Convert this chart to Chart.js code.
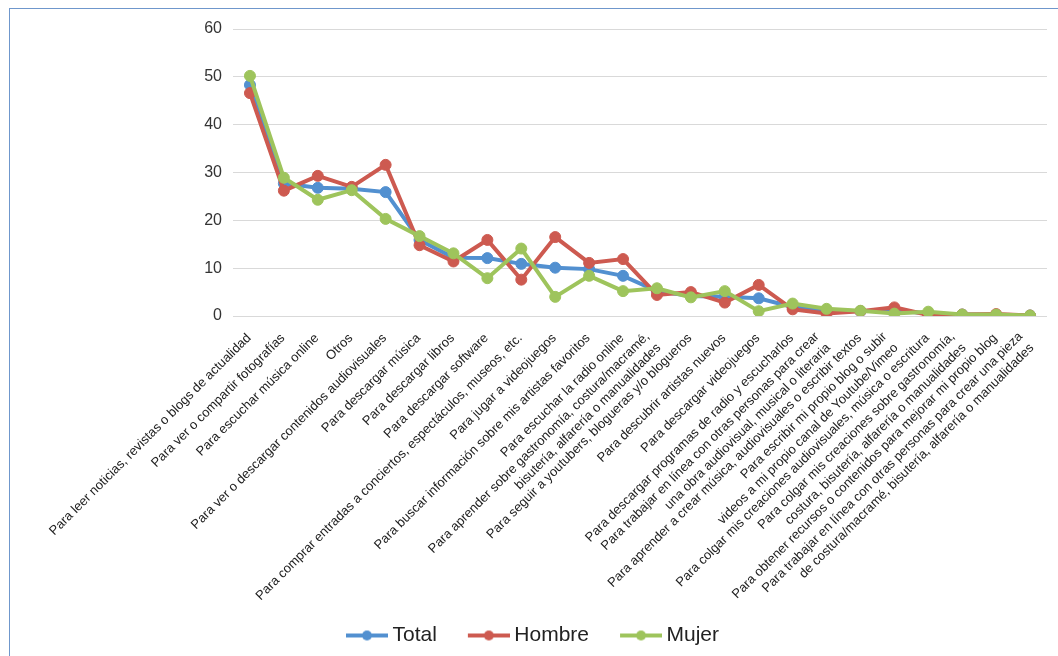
<!DOCTYPE html>
<html lang="es">
<head>
<meta charset="utf-8">
<title>Usos de Internet</title>
<script src="https://cdn.jsdelivr.net/npm/chart.js@4/dist/chart.umd.min.js"></script>
<style>
  html, body { margin: 0; padding: 0; background: #fff; }
  #wrap { position: relative; width: 1058px; height: 656px; }
  #frame {
    position: absolute; left: 9px; top: 8px; right: 0; bottom: 0;
    border-top: 1px solid #6f97cc; border-left: 1px solid #6f97cc;
    pointer-events: none;
  }
</style>
</head>
<body>
<div id="wrap">
  <canvas id="chart" width="1058" height="656"></canvas>
  <div id="frame"></div>
</div>
<script>
// Usos de Internet, en porcentaje
const categorias = [
  "Para leer noticias, revistas o blogs de actualidad",
  "Para ver o compartir fotografías",
  "Para escuchar música online",
  "Otros",
  "Para ver o descargar contenidos audiovisuales",
  "Para descargar música",
  "Para descargar libros",
  "Para descargar software",
  "Para comprar entradas a conciertos, espectáculos, museos, etc.",
  "Para jugar a videojuegos",
  "Para buscar información sobre mis artistas favoritos",
  "Para escuchar la radio online",
  ["Para aprender sobre gastronomía, costura/macramé,", "bisutería, alfarería o manualidades"],
  "Para seguir a youtubers, blogueras y/o blogueros",
  "Para descubrir artistas nuevos",
  "Para descargar videojuegos",
  "Para descargar programas de radio y escucharlos",
  ["Para trabajar en línea con otras personas para crear", "una obra audiovisual, musical o literaria"],
  "Para aprender a crear música, audiovisuales o escribir textos",
  ["Para escribir mi propio blog o subir", "videos a mi propio canal de Youtube/Vimeo"],
  "Para colgar mis creaciones audiovisuales, música o escritura",
  ["Para colgar mis creaciones sobre gastronomía,", "costura, bisutería, alfarería o manualidades"],
  "Para obtener recursos o contenidos para mejorar mi propio blog",
  ["Para trabajar en línea con otras personas para crear una pieza", "de costura/macramé, bisutería, alfarería o manualidades"]
];

const total  = [48.3, 27.7, 26.8, 26.6, 25.9, 15.9, 12.2, 12.1, 10.9, 10.1, 9.8, 8.4, 5.2, 4.2, 4.0, 3.7, 1.9, 1.1, 1.0, 1.2, 0.5, 0.3, 0.2, 0.1];
const hombre = [46.6, 26.2, 29.3, 27.0, 31.6, 14.8, 11.4, 15.9, 7.6, 16.5, 11.1, 11.9, 4.4, 5.0, 2.8, 6.5, 1.4, 0.5, 1.0, 1.8, 0.2, 0.3, 0.4, 0.1];
const mujer  = [50.2, 28.9, 24.3, 26.3, 20.3, 16.7, 13.1, 7.9, 14.1, 4.0, 8.4, 5.2, 5.8, 3.9, 5.2, 1.0, 2.6, 1.5, 1.1, 0.5, 0.9, 0.3, 0.3, 0.1];

const seriesNames = ["Total", "Hombre", "Mujer"];
const yTicks = [0, 10, 20, 30, 40, 50, 60];

const colors = ["#5290d0", "#cd5a50", "#9ec45c"];
const FONT = "'Liberation Sans', Arial, sans-serif";

// Legend swatch: a short line with a dot in the middle
function swatch(color) {
  const c = document.createElement("canvas");
  c.width = 54; c.height = 14;
  const g = c.getContext("2d");
  g.strokeStyle = color; g.lineWidth = 4;
  g.beginPath(); g.moveTo(12, 7); g.lineTo(54, 7); g.stroke();
  g.fillStyle = color;
  g.beginPath(); g.arc(33, 7, 5, 0, Math.PI * 2); g.fill();
  return c;
}
const swatches = colors.map(swatch);

// Category labels at 45°, multi-line labels centred on their tick
const slantedLabels = {
  id: "slantedLabels",
  afterDraw(chart) {
    const s = chart.scales.x;
    const ctx = chart.ctx;
    const lh = 16;
    ctx.save();
    ctx.font = "13px " + FONT;
    ctx.fillStyle = "#222";
    ctx.textAlign = "right";
    ctx.textBaseline = "middle";
    s.getLabels().forEach((lab, i) => {
      const lines = Array.isArray(lab) ? lab : [lab];
      const n = lines.length;
      ctx.save();
      ctx.translate(s.getPixelForTick(i) - 1, s.top + 20);
      ctx.rotate(-Math.PI / 4);
      const along = n > 1 ? -5 : 0;
      const shift = n > 1 ? 1 : 0;
      lines.forEach((t, j) => ctx.fillText(t, along, (j - (n - 1) / 2) * lh + shift));
      ctx.restore();
    });
    ctx.restore();
  }
};

// Nudge the legend row slightly to the right of centre
const legendNudge = {
  id: "legendNudge",
  afterLayout(chart) {
    if (chart.legend) {
      chart.legend.left += 6;
      chart.legend.right += 6;
    }
  }
};

function serie(label, data, color, order) {
  return {
    label, data, order,
    borderColor: color,
    backgroundColor: color,
    borderWidth: 4,
    pointRadius: 5.5,
    pointBackgroundColor: color,
    pointBorderColor: color,
    pointBorderWidth: 1,
    tension: 0,
    fill: false
  };
}

new Chart(document.getElementById("chart"), {
  type: "line",
  data: {
    labels: categorias,
    datasets: [
      serie(seriesNames[0], total, colors[0], 3),
      serie(seriesNames[1], hombre, colors[1], 2),
      serie(seriesNames[2], mujer, colors[2], 1)
    ]
  },
  plugins: [slantedLabels, legendNudge],
  options: {
    responsive: false,
    animation: false,
    layout: { padding: { top: 29, right: 11, bottom: 0, left: 0 } },
    plugins: {
      tooltip: { enabled: false },
      legend: {
        position: "bottom",
        labels: {
          usePointStyle: true,
          pointStyleWidth: 42,
          padding: 25,
          color: "#222",
          font: { family: FONT, size: 21 },
          generateLabels: (chart) => chart.data.datasets.map((ds, i) => ({
            text: ds.label,
            pointStyle: swatches[i],
            fillStyle: ds.borderColor,
            strokeStyle: "transparent",
            lineWidth: 0,
            hidden: false,
            datasetIndex: i,
            fontColor: "#222"
          }))
        }
      }
    },
    scales: {
      x: {
        type: "category",
        offset: true,
        grid: { display: false, drawTicks: false },
        border: { display: false },
        ticks: { display: false, autoSkip: false },
        afterFit: (s) => { s.height = 284; }
      },
      y: {
        min: 0,
        max: 60,
        afterBuildTicks: (s) => { s.ticks = yTicks.map(v => ({ value: v })); },
        grid: { color: "#d9d9d9", lineWidth: 1, drawTicks: false },
        border: { display: false },
        ticks: {
          padding: 11,
          color: "#333",
          font: { family: FONT, size: 16 }
        },
        afterFit: (s) => { s.width = 233; }
      }
    }
  }
});
</script>
</body>
</html>
